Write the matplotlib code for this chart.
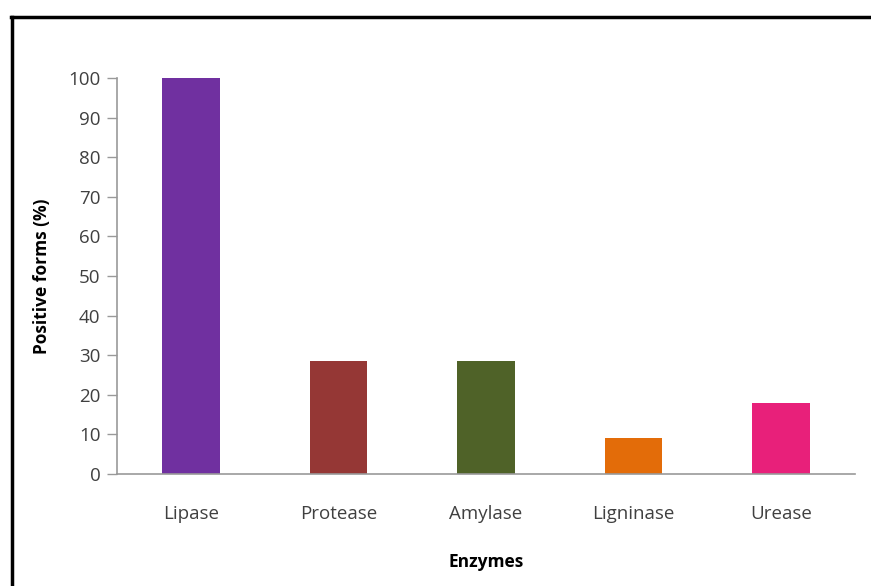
import numpy as np
from matplotlib import pyplot as plt
from matplotlib.lines import Line2D

plt.rcParams['font.family'] = ['Open Sans', 'DejaVu Sans']

enzymes = ['Lipase', 'Protease', 'Amylase', 'Ligninase', 'Urease']
positive = [100, 28.5, 28.5, 9, 18]
colors = ['#7030A0', '#953735', '#4F6228', '#E36C09', '#E8207A']

fig = plt.figure(figsize=(8.71, 5.86), dpi=100)
ax = fig.add_axes([0.1343, 0.1911, 0.8473, 0.6758])

x = np.arange(len(enzymes))
ax.bar(x, positive, width=0.39, color=colors)

ax.set_xlim(-0.5, len(enzymes) - 0.5)
ax.set_ylim(0, 100)
ax.set_yticks(np.arange(0, 101, 10))
ax.set_xticks(x)
ax.set_xticklabels(enzymes)
ax.tick_params(axis='x', length=0, pad=22, labelsize=13.5, colors='#404040')
ax.tick_params(axis='y', length=7, width=1, color='#999999', labelsize=13.5,
               labelcolor='#404040', pad=5)

for side in ['top', 'right']:
    ax.spines[side].set_visible(False)
for side in ['left', 'bottom']:
    ax.spines[side].set_color('#999999')
    ax.spines[side].set_linewidth(1.2)

ax.set_ylabel('Positive forms (%)', fontsize=12.5, fontweight='bold', labelpad=12)
ax.set_xlabel('Enzymes', fontsize=12.5, fontweight='bold', labelpad=22)

# frame around the figure (only top and left visible in the crop)
fig.add_artist(Line2D([0.0138, 0.0138], [0.0, 0.9710], color='black', lw=2.5,
                      transform=fig.transFigure))
fig.add_artist(Line2D([0.0126, 1.0], [0.9710, 0.9710], color='black', lw=2.5,
                      transform=fig.transFigure))

plt.savefig('out.png', dpi=100)
plt.close()
